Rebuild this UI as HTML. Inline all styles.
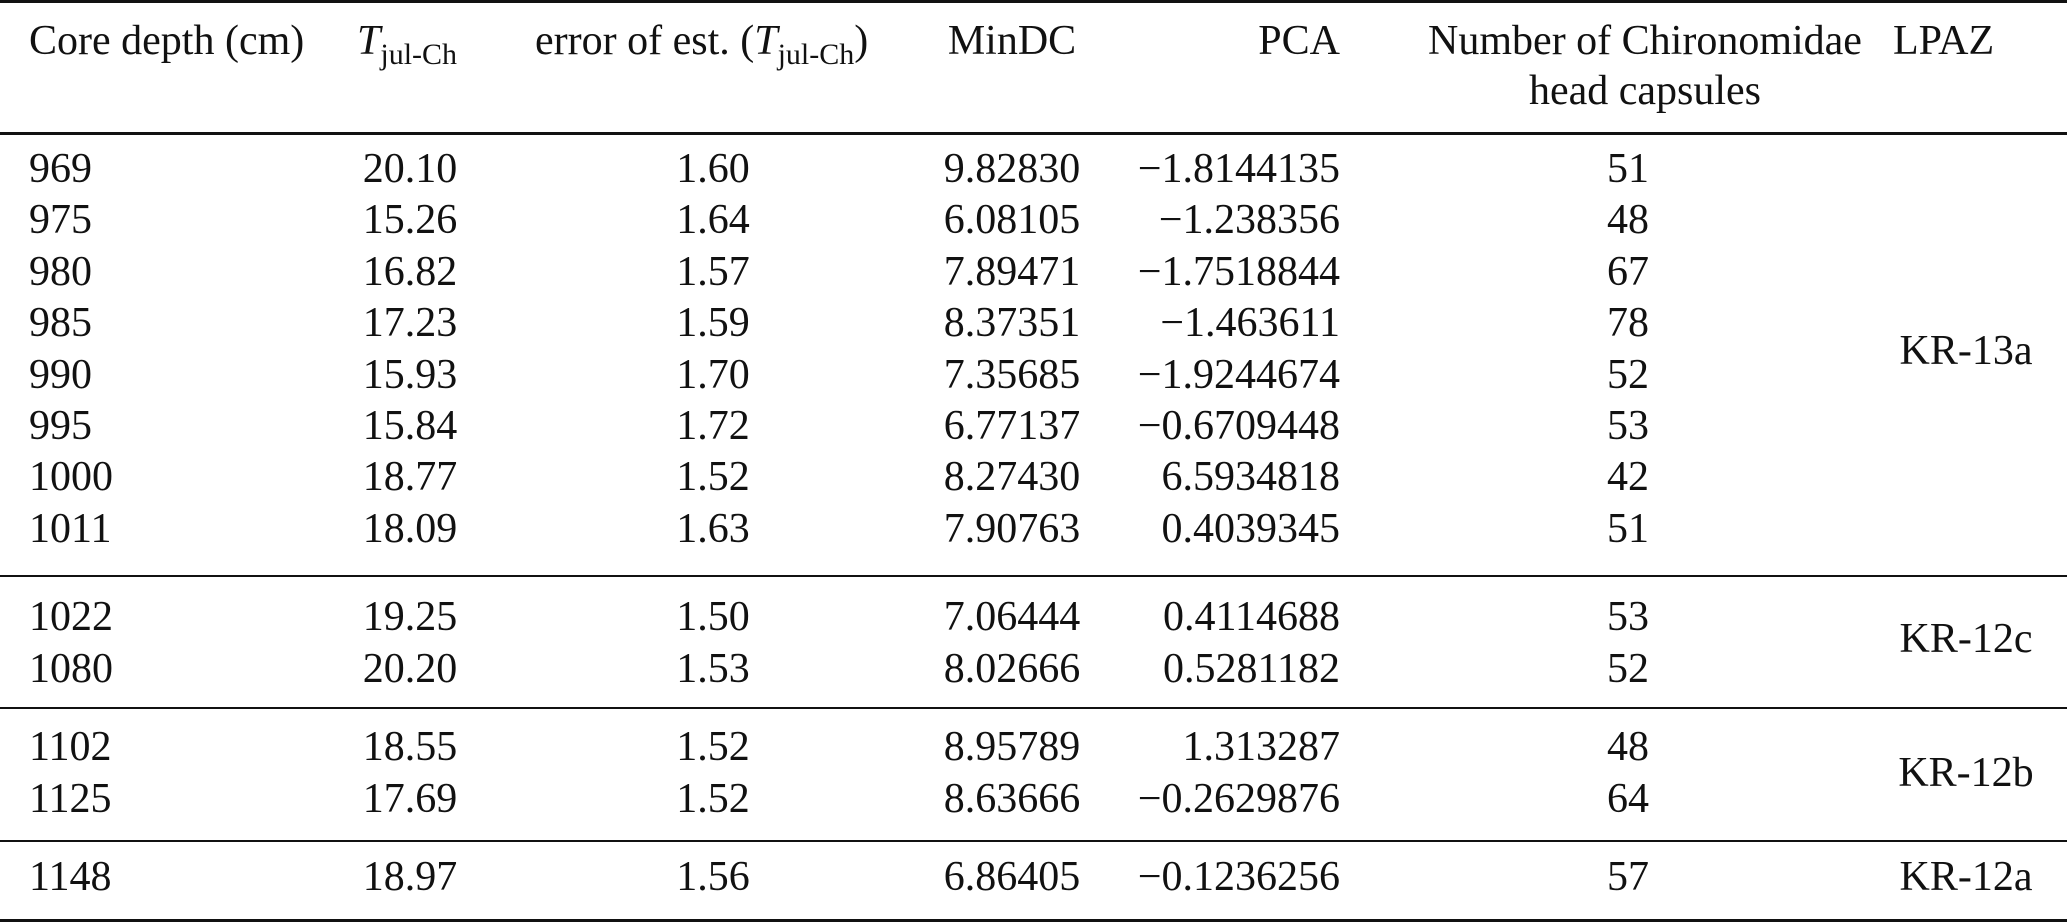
<!DOCTYPE html>
<html><head><meta charset="utf-8"><style>
html,body{margin:0;padding:0;background:#fff;}
body{width:2067px;height:923px;position:relative;overflow:hidden;font-family:"Liberation Serif",serif;font-size:42px;color:#111;}
.t{position:absolute;white-space:nowrap;line-height:50px;height:50px;}
.c{transform:translateX(-50%);}
.r{transform:translateX(-100%);}
.hl{position:absolute;left:0;width:2067px;background:#111;}
i{font-style:italic;}
sub{font-size:30px;vertical-align:-10px;line-height:0;}
</style></head><body>
<div class="hl" style="top:0;height:3px"></div>
<div class="hl" style="top:132px;height:3px"></div>
<div class="hl" style="top:575px;height:2px"></div>
<div class="hl" style="top:707px;height:2px"></div>
<div class="hl" style="top:840px;height:2px"></div>
<div class="hl" style="top:919px;height:3px"></div>

<div class="t" style="left:29px;top:16px">Core depth (cm)</div>
<div class="t" style="left:357px;top:16px"><i>T</i><sub>jul-Ch</sub></div>
<div class="t" style="left:535px;top:16px">error of est. (<i>T</i><sub>jul-Ch</sub>)</div>
<div class="t c" style="left:1012px;top:16px">MinDC</div>
<div class="t r" style="left:1340px;top:16px">PCA</div>
<div class="t c" style="left:1645px;top:16px">Number of Chironomidae</div>
<div class="t c" style="left:1645px;top:66px">head capsules</div>
<div class="t" style="left:1893px;top:16px">LPAZ</div>

<div id="rows"></div>
<div class="t c" style="left:1966px;top:326px">KR-13a</div>
<div class="t c" style="left:1966px;top:614px">KR-12c</div>
<div class="t c" style="left:1966px;top:748px">KR-12b</div>
<div class="t c" style="left:1966px;top:852px">KR-12a</div>

<div class="t" style="left:29px;top:144px">969</div><div class="t c" style="left:410px;top:144px">20.10</div><div class="t c" style="left:713px;top:144px">1.60</div><div class="t c" style="left:1012px;top:144px">9.82830</div><div class="t r" style="left:1340px;top:144px">−1.8144135</div><div class="t c" style="left:1628px;top:144px">51</div>
<div class="t" style="left:29px;top:195px">975</div><div class="t c" style="left:410px;top:195px">15.26</div><div class="t c" style="left:713px;top:195px">1.64</div><div class="t c" style="left:1012px;top:195px">6.08105</div><div class="t r" style="left:1340px;top:195px">−1.238356</div><div class="t c" style="left:1628px;top:195px">48</div>
<div class="t" style="left:29px;top:247px">980</div><div class="t c" style="left:410px;top:247px">16.82</div><div class="t c" style="left:713px;top:247px">1.57</div><div class="t c" style="left:1012px;top:247px">7.89471</div><div class="t r" style="left:1340px;top:247px">−1.7518844</div><div class="t c" style="left:1628px;top:247px">67</div>
<div class="t" style="left:29px;top:298px">985</div><div class="t c" style="left:410px;top:298px">17.23</div><div class="t c" style="left:713px;top:298px">1.59</div><div class="t c" style="left:1012px;top:298px">8.37351</div><div class="t r" style="left:1340px;top:298px">−1.463611</div><div class="t c" style="left:1628px;top:298px">78</div>
<div class="t" style="left:29px;top:350px">990</div><div class="t c" style="left:410px;top:350px">15.93</div><div class="t c" style="left:713px;top:350px">1.70</div><div class="t c" style="left:1012px;top:350px">7.35685</div><div class="t r" style="left:1340px;top:350px">−1.9244674</div><div class="t c" style="left:1628px;top:350px">52</div>
<div class="t" style="left:29px;top:401px">995</div><div class="t c" style="left:410px;top:401px">15.84</div><div class="t c" style="left:713px;top:401px">1.72</div><div class="t c" style="left:1012px;top:401px">6.77137</div><div class="t r" style="left:1340px;top:401px">−0.6709448</div><div class="t c" style="left:1628px;top:401px">53</div>
<div class="t" style="left:29px;top:452px">1000</div><div class="t c" style="left:410px;top:452px">18.77</div><div class="t c" style="left:713px;top:452px">1.52</div><div class="t c" style="left:1012px;top:452px">8.27430</div><div class="t r" style="left:1340px;top:452px">6.5934818</div><div class="t c" style="left:1628px;top:452px">42</div>
<div class="t" style="left:29px;top:504px">1011</div><div class="t c" style="left:410px;top:504px">18.09</div><div class="t c" style="left:713px;top:504px">1.63</div><div class="t c" style="left:1012px;top:504px">7.90763</div><div class="t r" style="left:1340px;top:504px">0.4039345</div><div class="t c" style="left:1628px;top:504px">51</div>

<div class="t" style="left:29px;top:592px">1022</div><div class="t c" style="left:410px;top:592px">19.25</div><div class="t c" style="left:713px;top:592px">1.50</div><div class="t c" style="left:1012px;top:592px">7.06444</div><div class="t r" style="left:1340px;top:592px">0.4114688</div><div class="t c" style="left:1628px;top:592px">53</div>
<div class="t" style="left:29px;top:644px">1080</div><div class="t c" style="left:410px;top:644px">20.20</div><div class="t c" style="left:713px;top:644px">1.53</div><div class="t c" style="left:1012px;top:644px">8.02666</div><div class="t r" style="left:1340px;top:644px">0.5281182</div><div class="t c" style="left:1628px;top:644px">52</div>

<div class="t" style="left:29px;top:722px">1102</div><div class="t c" style="left:410px;top:722px">18.55</div><div class="t c" style="left:713px;top:722px">1.52</div><div class="t c" style="left:1012px;top:722px">8.95789</div><div class="t r" style="left:1340px;top:722px">1.313287</div><div class="t c" style="left:1628px;top:722px">48</div>
<div class="t" style="left:29px;top:774px">1125</div><div class="t c" style="left:410px;top:774px">17.69</div><div class="t c" style="left:713px;top:774px">1.52</div><div class="t c" style="left:1012px;top:774px">8.63666</div><div class="t r" style="left:1340px;top:774px">−0.2629876</div><div class="t c" style="left:1628px;top:774px">64</div>

<div class="t" style="left:29px;top:852px">1148</div><div class="t c" style="left:410px;top:852px">18.97</div><div class="t c" style="left:713px;top:852px">1.56</div><div class="t c" style="left:1012px;top:852px">6.86405</div><div class="t r" style="left:1340px;top:852px">−0.1236256</div><div class="t c" style="left:1628px;top:852px">57</div>
</body></html>
